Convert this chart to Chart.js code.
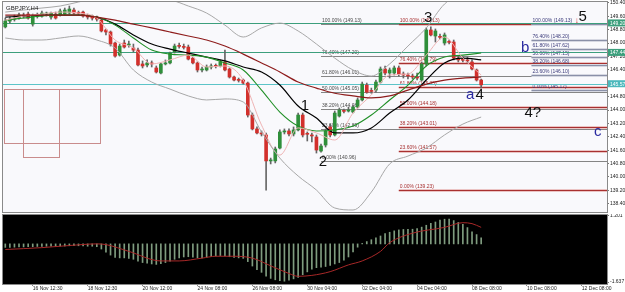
<!DOCTYPE html>
<html>
<head>
<meta charset="utf-8">
<title>GBPJPY,H4</title>
<script src="https://cdn.jsdelivr.net/npm/chart.js@4.4.0/dist/chart.umd.min.js"></script>
<style>
  body { margin: 0; background: #fff; }
  #wrap { position: relative; width: 625px; height: 292px; overflow: hidden; }
  #main { position: absolute; left: 0; top: 0; width: 625px; height: 214px; }
  #osc { position: absolute; left: 0; top: 214px; width: 625px; height: 78px; }
</style>
</head>
<body>
<div id="wrap">
  <canvas id="main" width="625" height="214"></canvas>
  <canvas id="osc" width="625" height="78"></canvas>
</div>
<script>
// H4 candles, one entry per bar
const opens = [148.96,149.31,149.43,149.49,149.67,149.73,149.13,149.61,149.61,149.73,149.55,149.73,149.67,149.73,149.79,149.97,149.79,149.85,149.67,149.61,
  149.55,149.37,148.78,148.66,148.00,147.28,148.00,147.88,147.70,147.58,146.75,146.69,146.81,146.51,146.21,146.75,146.81,147.46,147.82,147.76,
  147.76,147.10,146.81,146.39,146.39,146.57,146.63,146.63,146.87,146.45,145.97,145.79,145.79,145.61,143.70,142.87,142.63,142.51,140.96,140.96,
  141.73,142.69,142.75,142.57,142.81,143.70,142.57,142.51,142.39,141.55,141.91,142.99,142.51,143.64,143.94,143.94,143.88,144.18,144.60,145.49,
  145.13,145.19,145.67,146.45,146.21,146.21,146.51,146.15,146.09,146.03,145.97,145.79,146.75,148.78,148.42,148.36,148.00,148.06,148.06,147.10,
  146.99,146.99,146.87,146.39,145.79];
const highs = [149.49,149.55,149.67,149.79,149.79,149.85,149.73,149.79,149.91,149.85,149.85,149.85,150.03,150.09,150.21,150.09,149.91,149.91,149.73,149.67,
  149.61,149.43,148.84,148.72,148.06,147.94,148.18,148.12,147.94,147.70,146.93,146.99,146.93,146.63,146.81,146.99,147.46,147.94,148.00,147.94,
  147.88,147.16,146.87,146.57,146.69,146.75,146.75,146.99,147.58,146.51,146.03,145.91,145.85,145.67,143.82,142.99,142.75,142.63,141.13,141.79,
  142.81,142.87,142.87,142.99,143.82,143.82,142.69,142.63,142.51,141.97,142.87,143.16,143.94,144.12,144.06,144.18,144.30,144.72,145.67,145.61,
  145.31,145.79,146.57,146.63,146.51,146.63,146.63,146.27,146.21,146.15,146.21,146.87,148.90,148.96,148.84,148.54,148.60,148.18,148.18,147.22,
  147.16,147.16,146.99,146.45,145.85];
const lows = [148.90,149.19,149.31,149.43,149.49,149.43,149.01,149.49,149.55,149.61,149.43,149.43,149.61,149.67,149.73,149.73,149.67,149.55,149.43,149.37,
  149.31,148.66,148.48,147.82,147.16,147.22,147.70,147.76,147.46,146.63,146.51,146.57,146.57,146.21,146.15,146.69,146.75,147.40,147.70,147.64,
  146.99,146.75,146.27,146.27,146.33,146.45,146.51,146.57,146.33,145.91,145.73,145.67,145.55,143.58,142.81,142.57,142.45,139.22,140.78,140.84,
  141.67,142.57,142.45,142.45,142.75,142.39,142.15,142.09,141.43,141.49,141.79,142.39,142.45,143.58,143.82,143.88,143.82,144.12,144.54,145.00,
  145.00,145.06,145.61,146.09,145.91,146.09,146.03,145.91,145.85,145.85,145.79,145.73,146.63,148.42,148.06,148.24,147.88,147.94,146.99,146.87,
  146.87,146.81,146.39,145.73,145.31];
const closes = [149.31,149.43,149.49,149.67,149.61,149.49,149.61,149.67,149.79,149.75,149.79,149.49,149.91,149.97,150.03,149.79,149.77,149.61,149.55,149.49,
  149.43,148.72,148.66,147.94,147.22,147.82,147.76,147.94,147.58,146.69,146.63,146.81,146.75,146.27,146.75,146.81,147.40,147.82,147.80,147.74,
  147.04,146.81,146.39,146.45,146.57,146.63,146.61,146.87,146.39,145.97,145.79,145.77,145.61,143.70,142.87,142.63,142.57,140.96,141.01,141.67,
  142.69,142.75,142.57,142.81,143.70,142.51,142.55,142.45,141.61,141.85,142.75,142.51,143.82,144.00,143.92,144.00,144.18,144.60,145.55,145.06,
  145.11,145.67,146.45,146.21,146.39,146.51,146.15,146.09,146.03,145.97,145.91,146.75,148.78,148.48,148.72,148.34,148.48,148.04,147.10,146.99,
  146.97,146.93,146.45,145.79,145.50];

// indicator lines, read every 4th bar
const lineIdx = [0,4,8,12,16,20,24,28,32,36,40,44,48,52,56,60,64,68,72,76,80,84,88,92,96,100,104];
const maBlack = [149.55,149.61,149.67,149.67,149.67,149.55,149.13,148.48,147.94,147.64,147.40,147.16,146.93,146.57,146.27,145.49,144.24,143.52,142.63,142.63,142.93,143.82,144.60,145.79,146.81,147.10,146.99];
const maGreen = [149.37,149.49,149.61,149.67,149.67,149.55,149.07,148.30,147.58,147.34,147.28,147.16,146.81,146.39,145.19,143.88,143.04,142.75,142.81,143.04,143.70,144.60,145.49,146.63,147.16,147.28,147.40];
const maRed = [149.67,149.67,149.67,149.67,149.67,149.55,149.37,149.13,148.90,148.66,148.42,148.18,147.82,147.34,146.81,146.27,145.67,145.31,145.00,144.84,144.72,144.84,145.19,145.55,145.79,145.91,145.97];
const maPink = [149.37,149.61,149.73,149.85,149.79,149.49,148.18,147.70,146.75,146.99,147.28,146.57,146.63,145.79,143.10,141.31,142.93,142.63,142.21,143.82,144.90,146.09,146.15,147.28,148.36,147.10,146.09];
const bandUp = [149.85,149.97,150.09,150.21,150.45,150.69,150.81,150.75,150.63,150.57,150.21,149.79,149.07,148.36,148.90,149.19,148.72,147.94,147.10,146.39,146.03,146.75,147.82,148.90,150.33,150.93,151.04];
const bandLow = [148.30,148.18,148.18,148.30,148.42,148.18,147.70,146.39,145.67,145.25,144.84,144.60,144.66,144.48,142.69,141.13,140.06,139.22,138.15,138.03,139.10,140.78,141.25,141.73,142.51,143.16,143.58];

// oscillator panel
const macdHist = [-0.15,-0.15,-0.14,-0.13,-0.13,-0.12,-0.12,-0.11,-0.11,-0.10,-0.10,-0.10,-0.09,-0.09,-0.08,-0.08,-0.08,-0.09,-0.10,-0.10,-0.12,
  -0.22,-0.35,-0.48,
  -0.58,-0.60,-0.60,-0.62,-0.66,-0.74,
  -0.80,-0.83,-0.86,-0.88,-0.85,-0.80,-0.74,
  -0.66,-0.60,-0.56,-0.55,-0.57,-0.60,-0.60,-0.57,-0.54,
  -0.52,-0.50,-0.52,-0.55,-0.58,-0.60,-0.62,
  -0.76,-0.95,-1.10,-1.22,-1.38,-1.48,
  -1.54,-1.58,-1.60,-1.56,
  -1.50,-1.44,-1.32,-1.20,
  -1.08,-1.02,-1.00,-0.97,-0.92,-0.86,-0.80,-0.70,-0.56,
  -0.34,-0.14,0.02,
  0.10,0.18,0.26,0.34,0.44,0.50,
  0.56,0.60,0.62,0.62,0.63,0.66,
  0.72,0.80,0.88,0.94,1.02,1.06,
  1.06,1.00,0.92,0.84,0.70,0.52,0.40,0.26];
const sigIdx = [0,8,14,20,22,27,34,38,43,46,50,54,58,62,64,67,71,75,78,82,84,89,96,100,102,104];
const sigVals = [-0.24,-0.16,-0.07,0.00,-0.03,-0.32,-0.73,-0.73,-0.61,-0.53,-0.53,-0.61,-0.94,-1.27,-1.39,-1.35,-1.19,-0.90,-0.73,-0.32,0.05,0.46,0.71,0.91,0.87,0.71];

// axes
const tickIdx = [6,18,30,42,54,66,78,90,102,114,126];
const tickLabels = ['16 Nov 12:30','18 Nov 12:30','20 Nov 12:00','24 Nov 08:00','26 Nov 08:00','30 Nov 04:00','02 Dec 04:00','04 Dec 04:00','08 Dec 08:00','10 Dec 08:00','12 Dec 08:00'];
const priceTicks = [138.4,139.2,140.0,140.8,141.6,142.4,143.2,144.0,144.8,145.6,146.4,147.2,148.0,148.8,149.6,150.4];
const oscTicks = [1.201,-1.637];

// drawn objects
const hLines = [149.20, 147.44, 145.57];
const fibLevels = ['100.00%','76.40%','61.80%','50.00%','38.20%','23.60%','0.00%'];
const fibA = [149.13,147.20,146.01,145.05,144.08,142.89,140.96];
const fibB = [149.13,146.79,145.35,144.18,143.01,141.57,139.23];
const fibC = [149.13,148.20,147.62,147.15,146.68,146.10,145.17];
const waveText = ['1','2','3','4','a','b','c','4?','5','\u2193'];
const waveIdx = [65.5,69.4,92.4,103.7,101.6,113.6,129.5,115.3,126.2,124.9];
const wavePrice = [144.24,140.90,149.49,144.90,144.90,147.70,142.69,143.82,149.55,149.31];
const boxIdx = [[-0.3,20.7],[3.9,11.7]];
const boxPrice = [[145.25,142.03],[145.25,141.19]];

const xMin = -0.5, xMax = 131.5;
const FONT = 'Liberation Sans, Arial, sans-serif';
const UP = '#2f8f3a', DOWN = '#d2302c';

function pts(idx, vals) { return idx.map((x, k) => ({x: x, y: vals[k]})); }
function lineSet(idx, vals, color, width) {
  return {type: 'line', data: pts(idx, vals), borderColor: color, borderWidth: width,
    pointRadius: 0, tension: 0.4, cubicInterpolationMode: 'monotone', order: 0};
}

const mainDeco = {
  id: 'mainDeco',
  beforeDraw(chart) {
    const {ctx, chartArea: a} = chart;
    ctx.save();
    ctx.fillStyle = '#f9f9fc';
    ctx.fillRect(a.left, a.top, a.right - a.left, a.bottom - a.top);
    ctx.restore();
  },
  beforeDatasetsDraw(chart) {
    const {ctx, chartArea: a, scales: {x, y}} = chart;
    ctx.save();
    ctx.beginPath();
    ctx.rect(a.left, a.top, a.right - a.left, a.bottom - a.top);
    ctx.clip();

    // boxes on the left
    ctx.strokeStyle = '#c98c8c';
    ctx.lineWidth = 1;
    boxIdx.forEach((b, k) => {
      const x0 = Math.round(x.getPixelForValue(b[0])) + 0.5;
      const x1 = Math.round(x.getPixelForValue(b[1])) + 0.5;
      const y0 = Math.round(y.getPixelForValue(boxPrice[k][0])) + 0.5;
      const y1 = Math.round(y.getPixelForValue(boxPrice[k][1])) + 0.5;
      ctx.strokeRect(x0, y0, x1 - x0, y1 - y0);
    });

    // fibonacci sets
    const fibs = [
      {vals: fibA, start: 69, line: '#858585', halo: null, text: '#4a4a4a'},
      {vals: fibB, start: 86, line: '#a83030', halo: '#ebc4c4', text: '#a83030'},
      {vals: fibC, start: 115, line: '#8a90a8', halo: '#d6d8e2', text: '#3a3a7a'}
    ];
    ctx.font = '5px ' + FONT;
    ctx.textBaseline = 'bottom';
    ctx.textAlign = 'left';
    fibs.forEach(f => {
      const xs = x.getPixelForValue(f.start);
      f.vals.forEach((p, k) => {
        const yy = Math.round(y.getPixelForValue(p)) + 0.5;
        if (f.halo) {
          ctx.strokeStyle = f.halo; ctx.lineWidth = 3;
          ctx.beginPath(); ctx.moveTo(xs, yy); ctx.lineTo(a.right, yy); ctx.stroke();
        }
        ctx.strokeStyle = f.line; ctx.lineWidth = 1;
        ctx.beginPath(); ctx.moveTo(xs, yy); ctx.lineTo(a.right, yy); ctx.stroke();
        ctx.fillStyle = f.text;
        ctx.fillText(fibLevels[k] + ' (' + p.toFixed(2) + ')', xs + 1, yy - 1);
      });
    });

    // horizontal lines across the whole chart
    const hColors = ['#3c9f7c', '#3c9f7c', '#5cc4c8'];
    hLines.forEach((p, k) => {
      const yy = Math.round(y.getPixelForValue(p)) + 0.5;
      ctx.strokeStyle = hColors[k]; ctx.lineWidth = 1;
      ctx.beginPath(); ctx.moveTo(a.left, yy); ctx.lineTo(a.right, yy); ctx.stroke();
    });
    ctx.restore();
  },
  afterDraw(chart) {
    const {ctx, chartArea: a, scales: {x, y}} = chart;
    ctx.save();
    // wave labels
    ctx.textAlign = 'center';
    ctx.textBaseline = 'middle';
    waveText.forEach((t, k) => {
      let color = '#111', size = 15;
      if (/[abc]/.test(t)) color = '#2a2aa0';
      if (t === '\u2193') { color = '#d03030'; size = 8; }
      ctx.font = size + 'px ' + FONT;
      ctx.fillStyle = color;
      ctx.fillText(t, x.getPixelForValue(waveIdx[k]), y.getPixelForValue(wavePrice[k]));
    });

    // frame
    ctx.strokeStyle = '#8a8a8a';
    ctx.lineWidth = 1;
    ctx.strokeRect(a.left - 0.5, a.top - 0.5, a.right - a.left + 1, a.bottom - a.top + 1);

    // price boxes on the axis
    const boxColors = ['#3c9f7c', '#3c9f7c', '#4cb8bc'];
    ctx.font = '5px ' + FONT;
    ctx.textAlign = 'left';
    hLines.forEach((p, k) => {
      const yy = y.getPixelForValue(p);
      ctx.fillStyle = boxColors[k];
      ctx.fillRect(a.right + 1, yy - 3.5, 17, 7);
      ctx.fillStyle = '#fff';
      ctx.fillText(p.toFixed(2), a.right + 3, yy + 0.5);
    });

    // symbol title
    ctx.fillStyle = '#222';
    ctx.font = '6px ' + FONT;
    ctx.textBaseline = 'top';
    ctx.fillText('GBPJPY,H4', a.left + 3, a.top + 3);
    ctx.restore();
  }
};

new Chart(document.getElementById('main'), {
  type: 'bar',
  data: {
    datasets: [
      lineSet(lineIdx, bandUp, '#a8a8a8', 1),
      lineSet(lineIdx, bandLow, '#a8a8a8', 1),
      lineSet(lineIdx, maRed, '#8e1c1c', 1.2),
      lineSet(lineIdx, maPink, '#efb4b4', 1),
      lineSet(lineIdx, maGreen, '#1f8f26', 1.1),
      lineSet(lineIdx, maBlack, '#000000', 1.2),
      {
        data: opens.map((o, i) => ({x: i, y: [o, closes[i]]})),
        backgroundColor: c => closes[c.dataIndex] >= opens[c.dataIndex] ? UP : DOWN,
        barThickness: 3, minBarLength: 1, grouped: false, order: 1
      },
      {
        data: lows.map((l, i) => ({x: i, y: [l, highs[i]]})),
        backgroundColor: '#666',
        barThickness: 1, grouped: false, order: 2
      }
    ]
  },
  options: {
    responsive: false,
    animation: false,
    layout: {padding: {left: 3, top: 2, right: 0, bottom: 2}},
    plugins: {legend: {display: false}, tooltip: {enabled: false}},
    scales: {
      x: {type: 'linear', min: xMin, max: xMax, display: false, offset: false, grid: {offset: false}},
      y: {
        position: 'right', min: 137.91, max: 150.45, beginAtZero: false,
        afterBuildTicks: s => { s.ticks = priceTicks.map(v => ({value: v})); },
        ticks: {font: {size: 5, family: FONT}, color: '#222', padding: 1, callback: v => Number(v).toFixed(2)},
        grid: {drawOnChartArea: false, tickLength: 2, color: '#777'},
        border: {color: '#888'},
        afterFit: s => { s.width = 18; s.paddingTop = 0; s.paddingBottom = 0; }
      }
    }
  },
  plugins: [mainDeco]
});

const oscDeco = {
  id: 'oscDeco',
  beforeDraw(chart) {
    const {ctx, chartArea: a} = chart;
    ctx.save();
    ctx.fillStyle = '#000';
    ctx.fillRect(a.left, a.top, a.right - a.left, a.bottom - a.top);
    ctx.restore();
  },
  afterDraw(chart) {
    const {ctx, chartArea: a} = chart;
    ctx.save();
    ctx.strokeStyle = '#8a8a8a';
    ctx.strokeRect(a.left - 0.5, a.top - 0.5, a.right - a.left + 1, a.bottom - a.top + 1);
    ctx.restore();
  }
};

new Chart(document.getElementById('osc'), {
  type: 'bar',
  data: {
    datasets: [
      {type: 'line', data: pts(sigIdx, sigVals), borderColor: '#a82828', borderWidth: 1,
        pointRadius: 0, tension: 0.4, cubicInterpolationMode: 'monotone', order: 0},
      {data: macdHist.map((v, i) => ({x: i, y: v})), backgroundColor: '#7f9c7f',
        barThickness: 1, grouped: false, order: 1}
    ]
  },
  options: {
    responsive: false,
    animation: false,
    layout: {padding: {left: 3, top: 1, right: 0, bottom: 0}},
    plugins: {legend: {display: false}, tooltip: {enabled: false}},
    scales: {
      x: {
        type: 'linear', min: xMin, max: xMax, offset: false,
        afterBuildTicks: s => { s.ticks = tickIdx.map(v => ({value: v})); },
        ticks: {autoSkip: false, maxRotation: 0, align: 'start', padding: 0,
          font: {size: 5, family: FONT}, color: '#222',
          callback: v => tickLabels[tickIdx.indexOf(v)] || ''},
        grid: {drawOnChartArea: false, offset: false, tickLength: 2, color: '#888'},
        border: {color: '#888'},
        afterFit: s => { s.height = 8; s.paddingLeft = 0; s.paddingRight = 0; }
      },
      y: {
        position: 'right', min: -1.72, max: 1.24, beginAtZero: false,
        afterBuildTicks: s => { s.ticks = oscTicks.map(v => ({value: v})); },
        ticks: {font: {size: 5, family: FONT}, color: '#222', padding: 1, callback: v => Number(v).toFixed(3)},
        grid: {drawOnChartArea: false, tickLength: 2, color: '#777'},
        border: {color: '#888'},
        afterFit: s => { s.width = 18; s.paddingTop = 0; s.paddingBottom = 0; }
      }
    }
  },
  plugins: [oscDeco]
});
</script>
</body>
</html>
